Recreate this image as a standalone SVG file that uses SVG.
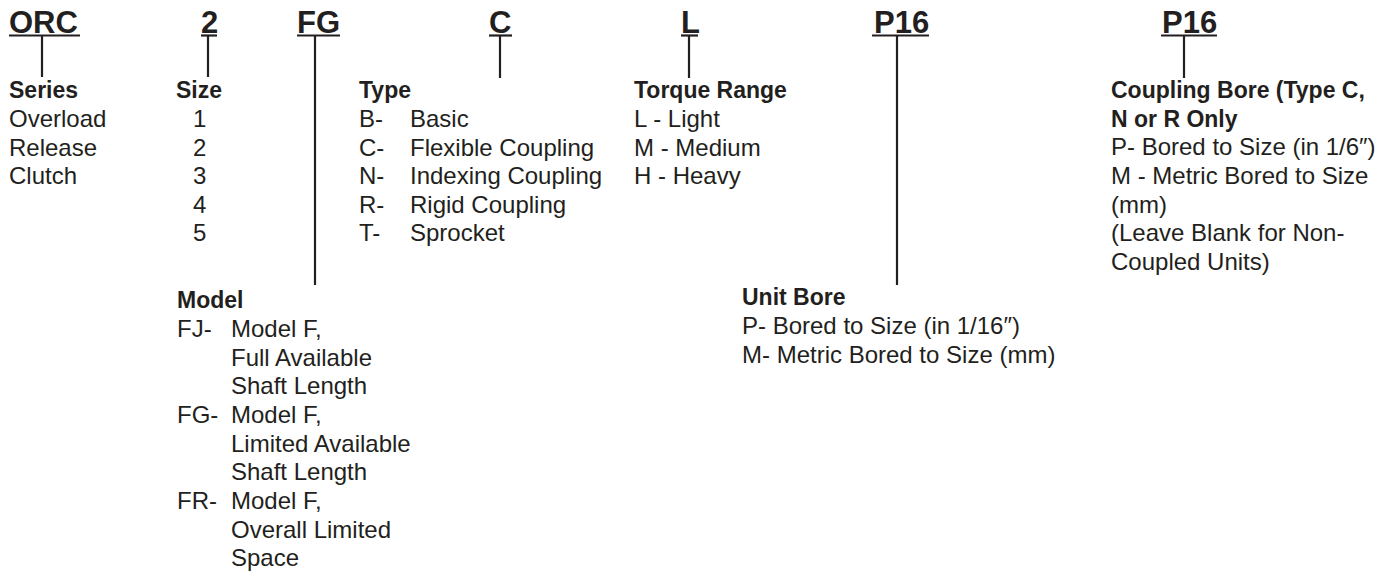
<svg xmlns="http://www.w3.org/2000/svg" width="1396" height="572" viewBox="0 0 1396 572">
<style>
text{font-family:"Liberation Sans",Arial,Helvetica,sans-serif;fill:#231f20}
.code{font-size:31px;font-weight:bold}
.h{font-size:23px;font-weight:bold}
.t{font-size:24px}
.ln{stroke:#231f20;stroke-width:2.2;fill:none}
</style>
<rect width="1396" height="572" fill="#ffffff"/>
<g id="connectors">
<line class="ln" x1="9" y1="35.5" x2="80" y2="35.5"/>
<line class="ln" x1="42" y1="36" x2="42" y2="77"/>
<line class="ln" x1="201" y1="35.5" x2="217" y2="35.5"/>
<line class="ln" x1="208" y1="36" x2="208" y2="77"/>
<line class="ln" x1="297" y1="35.5" x2="340" y2="35.5"/>
<line class="ln" x1="315" y1="36" x2="315" y2="285"/>
<line class="ln" x1="489" y1="35.5" x2="512" y2="35.5"/>
<line class="ln" x1="500" y1="36" x2="500" y2="78"/>
<line class="ln" x1="681" y1="35.5" x2="698" y2="35.5"/>
<line class="ln" x1="689" y1="36" x2="689" y2="78"/>
<line class="ln" x1="872" y1="35.5" x2="929" y2="35.5"/>
<line class="ln" x1="897" y1="36" x2="897" y2="285"/>
<line class="ln" x1="1161" y1="35.5" x2="1217" y2="35.5"/>
<line class="ln" x1="1184" y1="36" x2="1184" y2="78"/>
</g>
<g id="series">
<text class="code" x="9" y="33">ORC</text>
<text class="h" x="9" y="98">Series</text>
<text class="t" x="9" y="127">Overload</text>
<text class="t" x="9" y="155.5">Release</text>
<text class="t" x="9" y="184">Clutch</text>
</g>
<g id="size">
<text class="code" x="201" y="33">2</text>
<text class="h" x="176" y="98">Size</text>
<text class="t" x="193" y="127">1</text>
<text class="t" x="193" y="155.5">2</text>
<text class="t" x="193" y="184">3</text>
<text class="t" x="193" y="212.5">4</text>
<text class="t" x="193" y="241">5</text>
</g>
<g id="model">
<text class="code" x="297" y="33">FG</text>
<text class="h" x="177" y="308">Model</text>
<text class="t" x="177" y="337">FJ-</text>
<text class="t" x="231" y="337">Model F,</text>
<text class="t" x="231" y="365.5">Full Available</text>
<text class="t" x="231" y="394">Shaft Length</text>
<text class="t" x="177" y="423">FG-</text>
<text class="t" x="231" y="423">Model F,</text>
<text class="t" x="231" y="451.5">Limited Available</text>
<text class="t" x="231" y="480">Shaft Length</text>
<text class="t" x="177" y="509">FR-</text>
<text class="t" x="231" y="509">Model F,</text>
<text class="t" x="231" y="537.5">Overall Limited</text>
<text class="t" x="231" y="566">Space</text>
</g>
<g id="type">
<text class="code" x="489" y="33">C</text>
<text class="h" x="359" y="98">Type</text>
<text class="t" x="359" y="127">B-</text>
<text class="t" x="410" y="127">Basic</text>
<text class="t" x="359" y="155.5">C-</text>
<text class="t" x="410" y="155.5">Flexible Coupling</text>
<text class="t" x="359" y="184">N-</text>
<text class="t" x="410" y="184">Indexing Coupling</text>
<text class="t" x="359" y="212.5">R-</text>
<text class="t" x="410" y="212.5">Rigid Coupling</text>
<text class="t" x="359" y="241">T-</text>
<text class="t" x="410" y="241">Sprocket</text>
</g>
<g id="torque">
<text class="code" x="681" y="33">L</text>
<text class="h" x="634" y="98">Torque Range</text>
<text class="t" x="634" y="127">L - Light</text>
<text class="t" x="634" y="155.5">M - Medium</text>
<text class="t" x="634" y="184">H - Heavy</text>
</g>
<g id="unit-bore">
<text class="code" x="874" y="33">P16</text>
<text class="h" x="742" y="305">Unit Bore</text>
<text class="t" x="742" y="334">P- Bored to Size (in 1/16″)</text>
<text class="t" x="742" y="362.5">M- Metric Bored to Size (mm)</text>
</g>
<g id="coupling-bore">
<text class="code" x="1162" y="33">P16</text>
<text class="h" x="1111" y="98">Coupling Bore (Type C,</text>
<text class="h" x="1111" y="126.5">N or R Only</text>
<text class="t" x="1111" y="155">P- Bored to Size (in 1/6″)</text>
<text class="t" x="1111" y="184">M - Metric Bored to Size</text>
<text class="t" x="1111" y="212.5">(mm)</text>
<text class="t" x="1111" y="241">(Leave Blank for Non-</text>
<text class="t" x="1111" y="269.5">Coupled Units)</text>
</g>
</svg>
